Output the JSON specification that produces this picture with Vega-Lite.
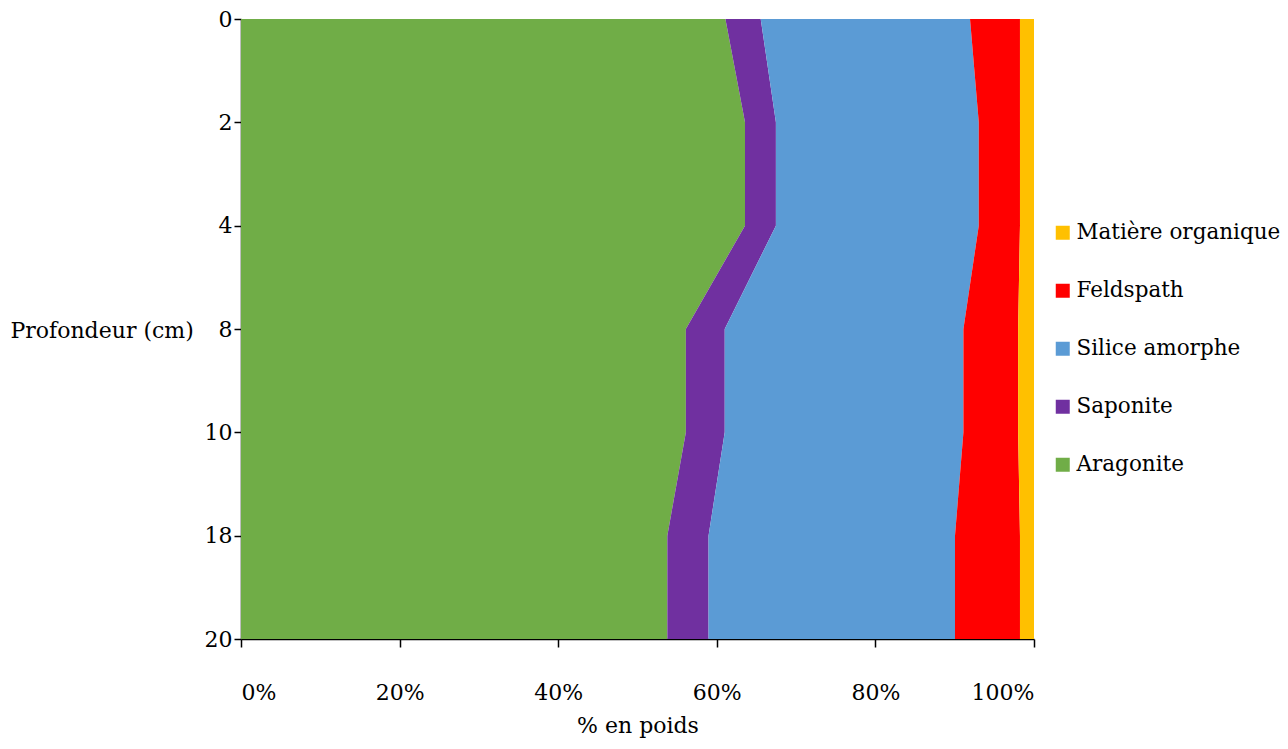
{
  "$schema": "https://vega.github.io/schema/vega-lite/v6.json",
  "autosize": "none",
  "padding": {"left": 241, "top": 19, "right": 254, "bottom": 110},
  "width": 793,
  "height": 620,
  "background": "white",
  "config": {
    "view": {"stroke": null},
    "font": "DejaVu Serif",
    "axis": {"grid": false, "domainColor": "black", "tickColor": "black", "labelColor": "black", "titleColor": "black", "domainWidth": 1.5, "tickWidth": 1.5, "labelFont": "DejaVu Serif", "titleFont": "DejaVu Serif", "labelFontSize": 22, "titleFontSize": 22, "titleFontWeight": "normal"},
    "legend": {"labelFont": "DejaVu Serif", "labelFontSize": 21.5, "labelColor": "black", "labelLimit": 400}
  },
  "data": {
    "values": [
      {"depth": "0", "mineral": "Aragonite", "pct": 61.1},
      {"depth": "0", "mineral": "Saponite", "pct": 4.45},
      {"depth": "0", "mineral": "Silice amorphe", "pct": 26.4},
      {"depth": "0", "mineral": "Feldspath", "pct": 6.3},
      {"depth": "0", "mineral": "Matière organique", "pct": 1.77},
      {"depth": "2", "mineral": "Aragonite", "pct": 63.6},
      {"depth": "2", "mineral": "Saponite", "pct": 3.9},
      {"depth": "2", "mineral": "Silice amorphe", "pct": 25.6},
      {"depth": "2", "mineral": "Feldspath", "pct": 5.2},
      {"depth": "2", "mineral": "Matière organique", "pct": 1.77},
      {"depth": "4", "mineral": "Aragonite", "pct": 63.6},
      {"depth": "4", "mineral": "Saponite", "pct": 3.9},
      {"depth": "4", "mineral": "Silice amorphe", "pct": 25.6},
      {"depth": "4", "mineral": "Feldspath", "pct": 5.2},
      {"depth": "4", "mineral": "Matière organique", "pct": 1.77},
      {"depth": "8", "mineral": "Aragonite", "pct": 56.1},
      {"depth": "8", "mineral": "Saponite", "pct": 4.9},
      {"depth": "8", "mineral": "Silice amorphe", "pct": 30.1},
      {"depth": "8", "mineral": "Feldspath", "pct": 6.9},
      {"depth": "8", "mineral": "Matière organique", "pct": 2.0},
      {"depth": "10", "mineral": "Aragonite", "pct": 56.1},
      {"depth": "10", "mineral": "Saponite", "pct": 4.9},
      {"depth": "10", "mineral": "Silice amorphe", "pct": 30.1},
      {"depth": "10", "mineral": "Feldspath", "pct": 6.9},
      {"depth": "10", "mineral": "Matière organique", "pct": 2.0},
      {"depth": "18", "mineral": "Aragonite", "pct": 53.8},
      {"depth": "18", "mineral": "Saponite", "pct": 5.2},
      {"depth": "18", "mineral": "Silice amorphe", "pct": 31.1},
      {"depth": "18", "mineral": "Feldspath", "pct": 8.2},
      {"depth": "18", "mineral": "Matière organique", "pct": 1.77},
      {"depth": "20", "mineral": "Aragonite", "pct": 53.8},
      {"depth": "20", "mineral": "Saponite", "pct": 5.2},
      {"depth": "20", "mineral": "Silice amorphe", "pct": 31.1},
      {"depth": "20", "mineral": "Feldspath", "pct": 8.2},
      {"depth": "20", "mineral": "Matière organique", "pct": 1.77}
    ]
  },
  "transform": [
    {"calculate": "indexof(['Aragonite','Saponite','Silice amorphe','Feldspath','Matière organique'], datum.mineral)", "as": "stackRank"}
  ],
  "mark": {"type": "area", "interpolate": "linear", "orient": "horizontal"},
  "encoding": {
    "y": {
      "field": "depth",
      "type": "ordinal",
      "scale": {"type": "point", "padding": 0, "domain": ["0", "2", "4", "8", "10", "18", "20"]},
      "axis": {
        "title": "Profondeur (cm)",
        "titleAngle": 0,
        "titleAlign": "left",
        "titleBaseline": "middle",
        "titleX": -231,
        "titleY": 311,
        "tickSize": 7,
        "labelPadding": 2,
        "labelAngle": 0
      }
    },
    "x": {
      "field": "pct",
      "type": "quantitative",
      "stack": "normalize",
      "scale": {"domain": [0, 1]},
      "axis": {
        "title": "% en poids",
        "format": ".0%",
        "values": [0, 0.2, 0.4, 0.6, 0.8, 1],
        "tickSize": 8,
        "labelPadding": 35,
        "titlePadding": 12
      }
    },
    "color": {
      "field": "mineral",
      "type": "nominal",
      "scale": {
        "domain": ["Aragonite", "Saponite", "Silice amorphe", "Feldspath", "Matière organique"],
        "range": ["#70AD47", "#7030A0", "#5B9BD5", "#FF0000", "#FFC000"]
      },
      "legend": {
        "title": null,
        "orient": "none",
        "legendX": 811,
        "legendY": 203,
        "values": ["Matière organique", "Feldspath", "Silice amorphe", "Saponite", "Aragonite"],
        "symbolType": "square",
        "symbolSize": 196,
        "symbolStrokeWidth": 0,
        "labelOffset": 3,
        "rowPadding": 35
      }
    },
    "order": {"field": "stackRank", "type": "quantitative", "sort": "ascending"}
  }
}
